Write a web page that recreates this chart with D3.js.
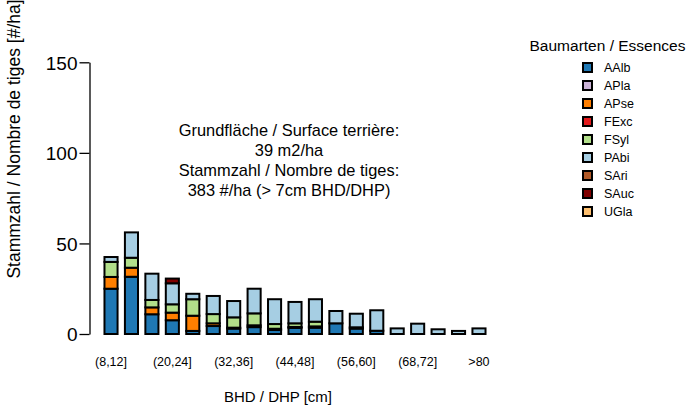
<!DOCTYPE html>
<html><head><meta charset="utf-8">
<script src="https://cdn.jsdelivr.net/npm/d3@7"></script>
<style>
html,body{margin:0;padding:0;background:#fff;}
text{font-family:"Liberation Sans",Arial,Helvetica,sans-serif;fill:#000;}
</style></head>
<body><svg id="chart" width="689" height="406"></svg>
<script>
const categories = ["(8,12]","(12,16]","(16,20]","(20,24]","(24,28]","(28,32]","(32,36]","(36,40]","(40,44]","(44,48]","(48,52]","(52,56]","(56,60]","(60,64]","(64,68]","(68,72]","(72,76]","(76,80]",">80"];
const species = ["AAlb","APla","APse","FExc","FSyl","PAbi","SAri","SAuc","UGla"];
const speciesColors = ["#1f78b4","#cab2d6","#ff7f00","#e31a1c","#b2df8a","#a6cee3","#b15928","#800000","#fdbf6f"];
const AAlb = [25, 31.6, 10.9, 7.6, 1.7, 4.4, 3.0, 3.8, 2.2, 3.4, 3.5, 5.9, 3.0, 1.8, 0, 0, 0, 0, 0];
const APla = [0,0,0,0,0,0,0,0,0,0,0,0,0,0,0,0,0,0,0];
const APse = [6.5, 5, 3.8, 4.2, 8.4, 1.5, 0,0,0,0,0,0,0,0,0,0,0,0,0];
const FExc = [0,0,0,0,0,0,0.5,1.0,0.7,0.5,0.7,0,0,0,0,0,0,0,0];
const FSyl = [8.3, 5.5, 4.1, 4.6, 9.1, 5.1, 5.7, 6.6, 2.6, 2.0, 2.6, 0, 0.7, 0,0,0,0,0,0];
const PAbi = [2.7, 14, 14.5, 11.6, 3.0, 10, 9.0, 13.6, 13.7, 11.8, 12.4, 6.8, 7.5, 11.3, 3.1, 5.7, 2.6, 1.7, 3.1];
const SAri = [0,0,0,0,0,0,0,0,0,0,0,0,0,0,0,0,0,0,0];
const SAuc = [0,0,0,2.6,0,0,0,0,0,0,0,0,0,0,0,0,0,0,0];
const UGla = [0,0,0,0,0,0,0,0,0,0,0,0,0,0,0,0,0,0,0];
const yTicks = [0,50,100,150];
const shownXLabels = ["(8,12]","(20,24]","(32,36]","(44,48]","(56,60]","(68,72]",">80"];
const legendTitle = "Baumarten / Essences";
const annotation = ["Grundfläche / Surface terrière:","39 m2/ha","Stammzahl / Nombre de tiges:","383 #/ha (> 7cm BHD/DHP)"];
const yTitle = "Stammzahl / Nombre de tiges [#/ha]";
const xTitle = "BHD / DHP [cm]";

const seriesMap = {AAlb,APla,APse,FExc,FSyl,PAbi,SAri,SAuc,UGla};
const table = categories.map((c,i)=>{const o={cat:c}; species.forEach(s=>o[s]=seriesMap[s][i]); return o;});

const svg = d3.select("#chart");
const x = d3.scaleBand().domain(categories).range([100.8, 489.2]).paddingInner(0.36).paddingOuter(0.18);
const y = d3.scaleLinear().domain([0,150]).range([334, 62.3]);
const color = d3.scaleOrdinal().domain(species).range(speciesColors);

const stack = d3.stack().keys(species)(table);
const g = svg.append("g");
stack.forEach(layer=>{
  g.selectAll(null).data(layer.filter(d=>d[1]-d[0]>0)).enter().append("rect")
    .attr("x", d=>x(d.data.cat))
    .attr("width", x.bandwidth())
    .attr("y", d=>y(d[1]))
    .attr("height", d=>y(d[0])-y(d[1]))
    .attr("fill", color(layer.key))
    .attr("stroke","#000").attr("stroke-width",2);
});

// y axis
const yAxis = svg.append("g").attr("transform","translate(89.5,0)")
  .call(d3.axisLeft(y).tickValues(yTicks).tickSize(10).tickSizeOuter(0).tickPadding(2));
yAxis.select(".domain").attr("stroke","#000").attr("stroke-width",1.3);
yAxis.selectAll(".tick line").attr("stroke","#000").attr("stroke-width",1.3);
yAxis.selectAll(".tick text").style("font-size","19px").attr("dy","0.36em")
  .style("font-family","'Liberation Sans',Arial,sans-serif").attr("fill","#000");

// x labels
svg.append("g").selectAll("text").data(shownXLabels).enter().append("text")
  .attr("x", d=>x(d)+x.bandwidth()/2).attr("y",366)
  .attr("text-anchor","middle").style("font-size","12.5px").text(d=>d);

svg.append("text").attr("x",278).attr("y",402).attr("text-anchor","middle")
  .style("font-size","15px").text(xTitle);
svg.append("text").attr("transform","translate(20,139) rotate(-90)").attr("text-anchor","middle")
  .style("font-size","17.5px").text(yTitle);

// annotation
svg.append("g").selectAll("text").data(annotation).enter().append("text")
  .attr("x",289).attr("y",(d,i)=>135.5+i*20).attr("text-anchor","middle")
  .style("font-size","16.4px").text(d=>d);

// legend
svg.append("text").attr("x",607.5).attr("y",51).attr("text-anchor","middle")
  .style("font-size","15.5px").text(legendTitle);
const leg = svg.append("g").selectAll("g").data(species).enter().append("g")
  .attr("transform",(d,i)=>`translate(0,${67.5+i*18})`);
leg.append("rect").attr("x",583).attr("y",-4.5).attr("width",9).attr("height",9)
  .attr("fill",d=>color(d)).attr("stroke","#000").attr("stroke-width",2);
leg.append("text").attr("x",604).attr("y",0).attr("dy","0.36em").style("font-size","12.5px").text(d=>d);
</script></body></html>
